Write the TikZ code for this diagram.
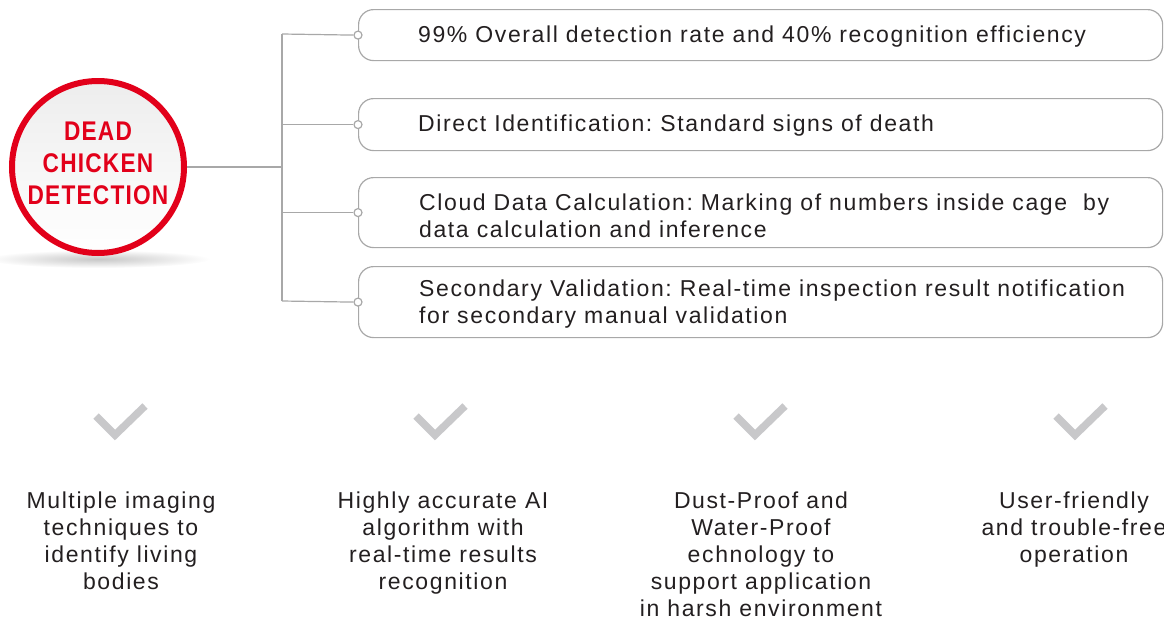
\documentclass[tikz,border=0pt]{standalone}
\usepackage{fontspec}
\setmainfont{Liberation Sans}[LetterSpace=7]
\newfontfamily\titlefont{Liberation Sans}[FakeStretch=0.84,LetterSpace=4.5,BoldFont={* Bold}]
\usetikzlibrary{positioning,shapes,calc}
\definecolor{deadred}{RGB}{226,0,26}
\definecolor{linegray}{RGB}{168,168,168}
\definecolor{checkgray}{RGB}{200,200,202}
\definecolor{textgray}{RGB}{35,31,32}
\pgfdeclarelayer{background}
\pgfsetlayers{background,main}
\frenchspacing

\begin{document}
\begin{tikzpicture}[x=1pt,y=-1pt,
		featbox/.style={draw=linegray, line width=1.2pt, rounded corners=15pt, rectangle, anchor=north west, inner sep=0pt},
		feattext/.style={anchor=west, align=left, inner sep=0pt, text=textgray, font=\fontsize{23}{27}\selectfont},
		joint/.style={draw=linegray, fill=white, circle, line width=1.2pt, minimum size=8pt, inner sep=0pt},
		benefit/.style={anchor=north, align=center, inner sep=0pt, text=textgray, font=\fontsize{23}{27}\selectfont},
		tick/.style={draw=checkgray, line width=7.5pt, line cap=butt, line join=miter},
		link/.style={draw=linegray, line width=1.2pt}]
	\useasboundingbox (0,0) rectangle (1164,621);

	% title disc
	\begin{pgfonlayer}{background}
		\shade[inner color=black!22, outer color=white] (98,259) ellipse (112 and 9);
	\end{pgfonlayer}
	\node[circle, minimum size=172pt, draw=deadred, line width=6pt, top color=black!7, bottom color=white, inner sep=0pt] (title) at (98,167) {};
	\node[align=center, inner sep=0pt, text=deadred, font=\titlefont\bfseries\fontsize{27}{32}\selectfont] (caption) at (98,163) {DEAD\\CHICKEN\\DETECTION};

	% feature boxes
	\node[featbox, minimum width=804pt, minimum height=51pt] (box1) at (358,9) {};
	\node[featbox, minimum width=804pt, minimum height=52pt] (box2) at (358,98) {};
	\node[featbox, minimum width=804pt, minimum height=70pt] (box3) at (358,177) {};
	\node[featbox, minimum width=804pt, minimum height=71pt] (box4) at (358,266) {};

	\node[feattext] (t1) at (418,37) {99\% Overall detection rate and 40\% recognition efficiency};
	\node[feattext] (t2) at (418,126) {Direct Identification: Standard signs of death};
	\node[feattext] (t3) at (419,216) {Cloud Data Calculation: Marking of numbers inside cage\ \ by\\data calculation and inference};
	\node[feattext] (t4) at (419,304) {Secondary Validation: Real-time inspection result notification\\for secondary manual validation};

	% connectors
	\coordinate (hub) at (282,167);
	\coordinate (top) at (282,34);
	\coordinate (bottom) at (282,301);
	\node[joint] (j1) at (box1.west) {};
	\node[joint] (j2) at (box2.west) {};
	\node[joint] (j3) at (box3.west) {};
	\node[joint] (j4) at (box4.west) {};
	\draw[link] (title.east) -- (hub);
	\draw[link] (top) -- (bottom);
	\draw[link] (top) -- (j1.west);
	\draw[link] (j2.west -| hub) -- (j2.west);
	\draw[link] (j3.west -| hub) -- (j3.west);
	\draw[link] (bottom) -- (j4.west);

	% benefits
	\foreach \cx in {121,441,761,1081}
		\draw[tick] (\cx-25,416) -- (\cx-6,435) -- (\cx+24,406);

	\node[benefit] (b1) at (121,492) {Multiple imaging\\techniques to\\identify living\\bodies};
	\node[benefit] (b2) at (443,492) {Highly accurate AI\\algorithm with\\real-time results\\recognition};
	\node[benefit] (b3) at (761,492) {Dust-Proof and\\Water-Proof\\echnology to\\support application\\in harsh environment};
	\node[benefit] (b4) at (1074,492) {User-friendly\\and trouble-free\\operation};
\end{tikzpicture}
\end{document}
